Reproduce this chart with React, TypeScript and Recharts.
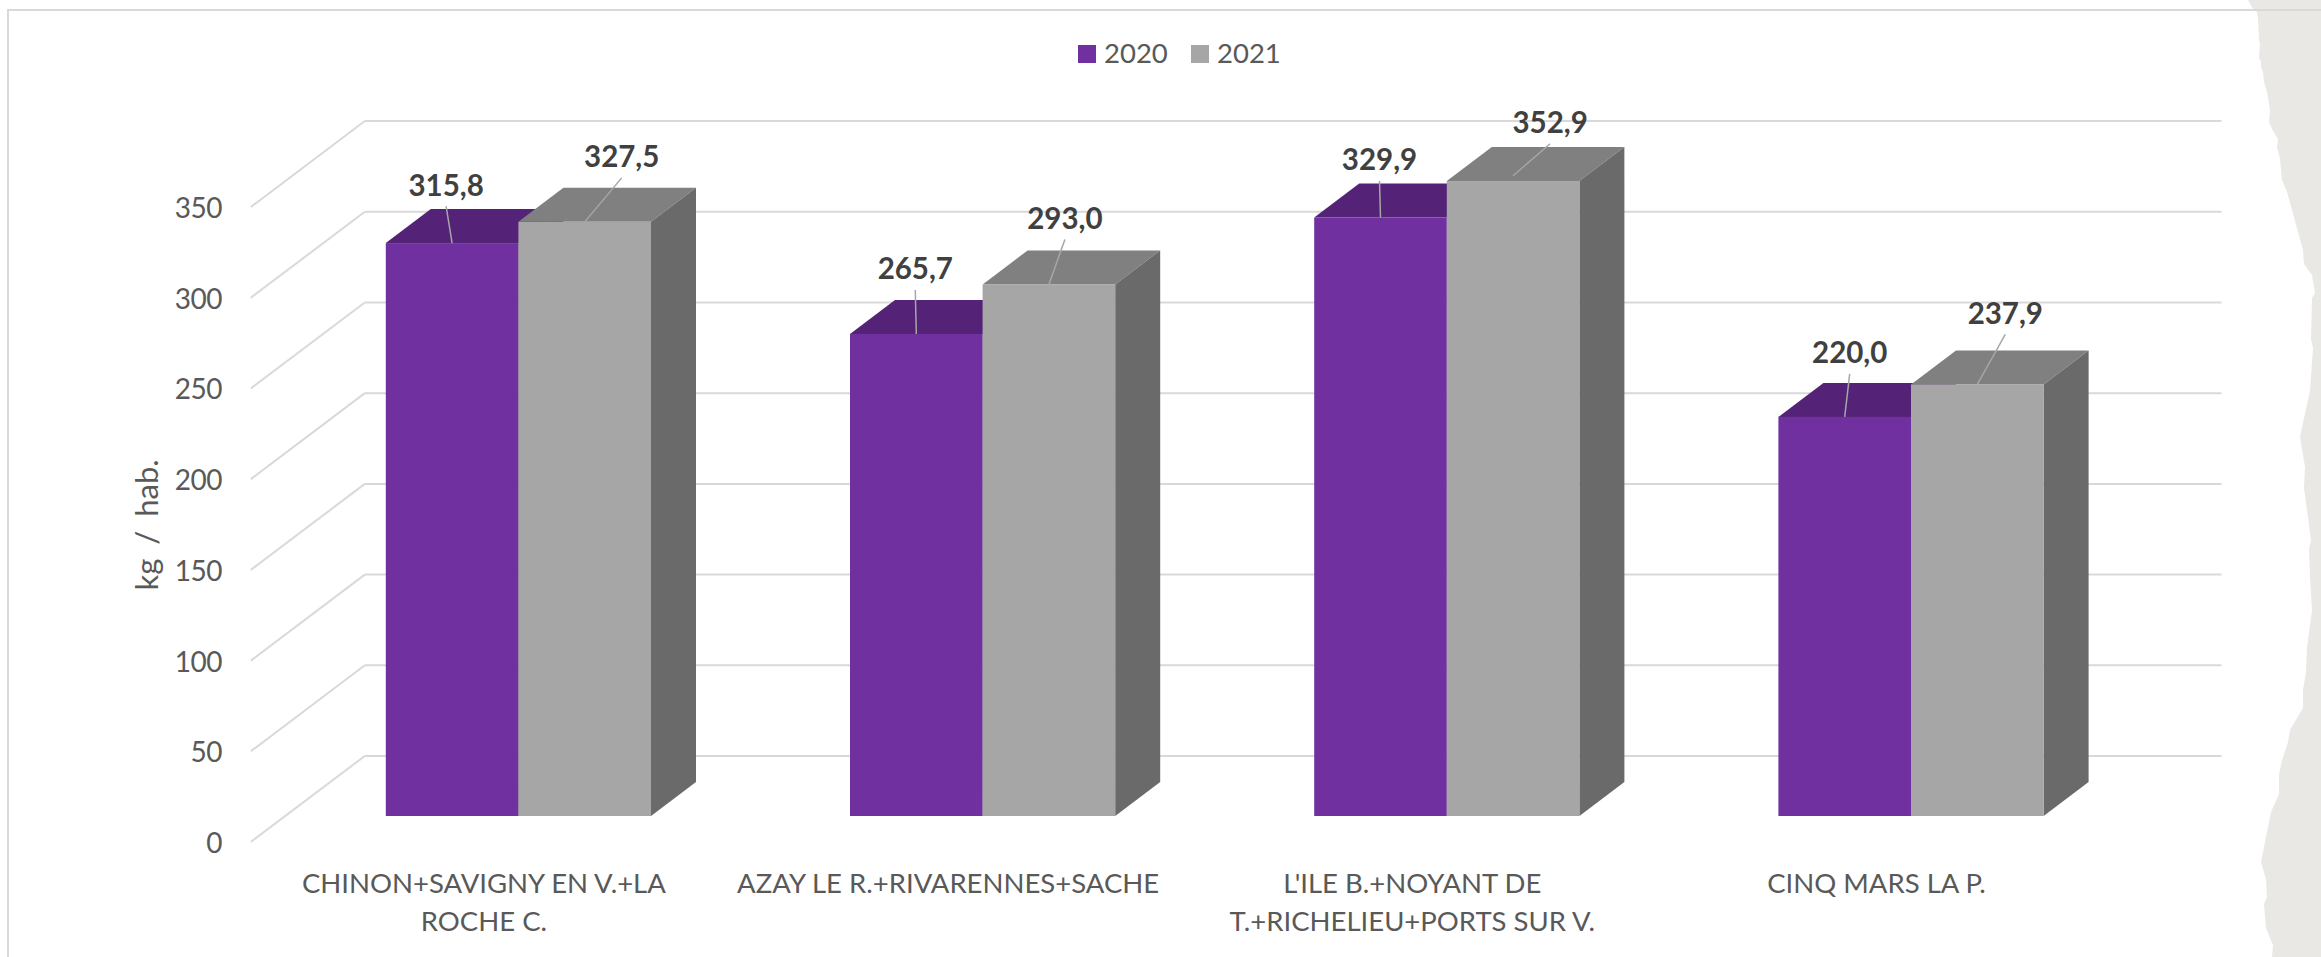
import React from 'react';
import { BarChart, Bar, XAxis, YAxis, CartesianGrid, Legend, LabelList, Label } from 'recharts';

const categories = [
  "CHINON+SAVIGNY EN V.+LA|ROCHE C.",
  "AZAY LE R.+RIVARENNES+SACHE",
  "L'ILE B.+NOYANT DE|T.+RICHELIEU+PORTS SUR V.",
  "CINQ MARS LA P.",
];
const values2020 = [315.8, 265.7, 329.9, 220.0];
const values2021 = [327.5, 293.0, 352.9, 237.9];
const yTicks = [0, 50, 100, 150, 200, 250, 300, 350];
const chartRows = categories.map((name, i) => ({ name, y2020: values2020[i], y2021: values2021[i] }));

// the reference's value axis stops at 350: a taller bar is cut at that height
const AXIS_MAX = 350;

// layout: callout offsets of the value labels, relative to the top-centre of each bar
const callout2020 = [[-6, -59], [-1, -66], [-1, -58.6], [5, -65]];
const callout2021 = [[37, -66], [16, -67], [37, -54], [28, -72]];

const FONT = 'Lato, "Open Sans", sans-serif';
const TEXT = '#595959';
const GRID = '#D9D9D9';
const DEPTH_X = 45;
const DEPTH_Y = 34;

// torn paper edge, page decoration
const tornEdge: [number, number][] = [
  [2253, 9], [2257, 12], [2258, 18], [2259, 40], [2260, 43], [2259, 58], [2261, 61], [2261, 67], [2263, 72], [2264, 82],
  [2267, 92], [2270, 110], [2269, 122], [2273, 131], [2278, 139], [2277, 147], [2280, 159], [2282, 180], [2287, 192],
  [2303, 250], [2304, 264], [2312, 275], [2315, 293], [2312, 298], [2311, 339], [2313, 348], [2310, 391], [2306, 409],
  [2300, 437], [2305, 467], [2304, 488], [2309, 525], [2311, 540], [2309, 549], [2310, 577], [2312, 611], [2307, 647],
  [2306, 672], [2303, 690], [2303, 708], [2290, 730], [2288, 742], [2282, 760], [2279, 775], [2279, 794], [2271, 812],
  [2261, 862], [2266, 879], [2267, 897], [2264, 904], [2266, 928], [2273, 945], [2272, 957],
];

const Box3D = (key: string, top: string, side: string) => (p: any) => {
  const { x, y: rawY, width: w, height: rawH, fill, payload } = p;
  const val = payload[key];
  const h = rawH * Math.min(1, AXIS_MAX / val);
  const y = rawY + rawH - h;
  return (
    <g>
      <polygon points={`${x},${y} ${x + DEPTH_X},${y - DEPTH_Y} ${x + w + DEPTH_X},${y - DEPTH_Y} ${x + w},${y}`} fill={top} />
      <polygon points={`${x + w},${y} ${x + w + DEPTH_X},${y - DEPTH_Y} ${x + w + DEPTH_X},${y + h - DEPTH_Y} ${x + w},${y + h}`} fill={side} />
      <rect x={x} y={y} width={w} height={h} fill={fill} />
    </g>
  );
};

const Callout = (shifts: number[][]) => (p: any) => {
  const { x, y, width, index, value } = p;
  const cx = x + width / 2;
  const [dx, dy] = shifts[index];
  const lx = cx + dx;
  const ly = y + dy;
  return (
    <g>
      <line x1={lx} y1={ly + 22} x2={cx} y2={y} stroke="#A6A6A6" strokeWidth={1.5} />
      <text x={lx} y={ly} textAnchor="middle" dominantBaseline="central" fontFamily={FONT} fontWeight={700} fontSize={29.5} fill="#404040">
        {Number(value).toFixed(1).replace('.', ',')}
      </text>
    </g>
  );
};

const GridLine = (p: any) => {
  const { x1, x2, y1 } = p;
  return (
    <g>
      <line x1={x1 - 35} y1={y1 + 26} x2={x1 + 79} y2={y1 - 60} stroke={GRID} strokeWidth={2} />
      <line x1={x1 + 79} y1={y1 - 60} x2={x2 + 79} y2={y1 - 60} stroke={GRID} strokeWidth={2} />
    </g>
  );
};

const YTick = (p: any) => (
  <text x={222} y={p.y + 26} textAnchor="end" dominantBaseline="central" fontFamily={FONT} fontSize={28} letterSpacing={-0.5} fill={TEXT}>
    {p.payload.value}
  </text>
);

const XTick = (p: any) => {
  const lines = String(p.payload.value).split('|');
  return (
    <g>
      {lines.map((t, i) => (
        <text key={i} x={p.x - 34} y={p.y + 58 + i * 38} textAnchor="middle" dominantBaseline="central" fontFamily={FONT} fontSize={27.5} fill={TEXT}>
          {t}
        </text>
      ))}
    </g>
  );
};

const LegendBody = (p: any) => (
  <div style={{ position: 'relative', height: 0 }}>
    {(p.payload || []).map((e: any, i: number) => (
      <React.Fragment key={e.value}>
        <div style={{ position: 'absolute', left: 1078 + i * 113, top: 45, width: 18, height: 18, background: e.color }} />
        <div style={{ position: 'absolute', left: 1104 + i * 113, top: 33, lineHeight: '40px', fontFamily: FONT, fontSize: 27.5, color: TEXT }}>{e.value}</div>
      </React.Fragment>
    ))}
  </div>
);

export default function App() {
  return (
    <div style={{ position: 'absolute', left: 0, top: 0, width: 2321, height: 957, background: '#fff', overflow: 'hidden' }}>
      <svg width={2321} height={957} style={{ position: 'absolute', left: 0, top: 0 }}>
        <polygon points={`2248,0 2321,0 2321,957 ${tornEdge.slice().reverse().map((q) => q.join(',')).join(' ')}`} fill="#E9E8E4" />
        <path d="M8 957 V10 H2321" fill="none" stroke={GRID} strokeWidth={2} />
      </svg>
      <BarChart
        width={2321}
        height={957}
        data={chartRows}
        barSize={132.6}
        barGap={0}
        margin={{ top: 162.9, right: 178.4, bottom: 81, left: 225.8 }}
        style={{ position: 'absolute', left: 0, top: 0 }}
      >
        <CartesianGrid vertical={false} horizontal={GridLine} syncWithTicks />
        <XAxis dataKey="name" height={60} axisLine={false} tickLine={false} tick={XTick} interval={0} />
        <YAxis width={60} domain={[0, 360]} ticks={yTicks} axisLine={false} tickLine={false} tick={YTick} interval={0}>
          <Label
            content={() => (
              <text transform="translate(146 525) rotate(-90)" textAnchor="middle" dominantBaseline="central" fontFamily={FONT} fontSize={31} wordSpacing={6} fill={TEXT}>
                kg / hab.
              </text>
            )}
          />
        </YAxis>
        <Legend verticalAlign="top" content={LegendBody} wrapperStyle={{ left: 0, top: 0, width: 2321, height: 0 }} />
        <Bar dataKey="y2020" name="2020" fill="#7030A0" isAnimationActive={false} shape={Box3D('y2020', '#542378', '#4F2270')}>
          <LabelList dataKey="y2020" content={Callout(callout2020)} />
        </Bar>
        <Bar dataKey="y2021" name="2021" fill="#A6A6A6" isAnimationActive={false} shape={Box3D('y2021', '#808080', '#6A6A6A')}>
          <LabelList dataKey="y2021" content={Callout(callout2021)} />
        </Bar>
      </BarChart>
    </div>
  );
}
